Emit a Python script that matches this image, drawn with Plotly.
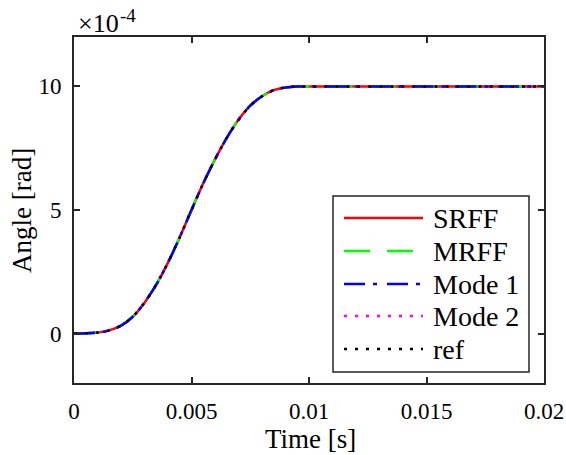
import plotly.graph_objects as go

# ---- data (angle in units of 1e-4 rad) ----
time_s = [0.0, 0.0005, 0.001, 0.0015, 0.002, 0.0025, 0.003, 0.0035, 0.004, 0.0045,
          0.005, 0.0055, 0.006, 0.0065, 0.007, 0.0075, 0.008, 0.0085, 0.009, 0.0095,
          0.010, 0.012, 0.014, 0.016, 0.018, 0.020]
angle_srff = [0.0, 0.01, 0.04, 0.13, 0.32, 0.68, 1.25, 1.98, 2.87, 3.9,
              5.0, 6.08, 7.05, 7.92, 8.65, 9.22, 9.6, 9.85, 9.96, 10.0,
              10.0, 10.0, 10.0, 10.0, 10.0, 10.0]
angle_mrff = list(angle_srff)
angle_mode1 = list(angle_srff)
angle_mode2 = list(angle_srff)
angle_ref = list(angle_srff)

series_names = ["SRFF", "MRFF", "Mode 1", "Mode 2", "ref"]
series_values = [angle_srff, angle_mrff, angle_mode1, angle_mode2, angle_ref]
series_colors = ["#ff0000", "#00ff00", "#0000ff", "#ff00ff", "#000000"]
series_dash = ["solid", "26px,17px", "21px,8px,4px,10px", "3px,8px", "3px,8px"]

x_ticks = [0, 0.005, 0.01, 0.015, 0.02]
x_ticklabels = ["0", "0.005", "0.01", "0.015", "0.02"]
y_ticks = [0, 5, 10]
y_ticklabels = ["0", "5", "10"]

W, H = 566, 455
L, R, T, B = 74, 544, 37, 383
FONT = "Liberation Serif, Times New Roman, serif"
AX = "#262626"

def px(x):
    return (x - L) / (R - L)

def py(y):
    return (B - y) / (B - T)

fig = go.Figure()
for name, vals, col, dash in zip(series_names, series_values, series_colors, series_dash):
    fig.add_trace(go.Scatter(x=time_s, y=vals, mode="lines", name=name,
                             line=dict(color=col, width=2.5, dash=dash, shape="spline", smoothing=0.8),
                             showlegend=False))

axis_common = dict(showgrid=False, zeroline=False, showline=True, linecolor=AX, linewidth=2,
                   mirror="ticks", ticks="inside", ticklen=6, tickwidth=2, tickcolor=AX,
                   automargin=False,
                   tickfont=dict(family=FONT, size=23, color="black"))
fig.update_xaxes(range=[0, 0.02], tickvals=x_ticks, ticktext=x_ticklabels,
                 ticklabelstandoff=6, **axis_common)
fig.update_yaxes(range=[-2, 12], tickvals=y_ticks, ticktext=y_ticklabels,
                 ticklabelstandoff=6, **axis_common)

shapes = []
annotations = []
# legend box
shapes.append(dict(type="rect", xref="paper", yref="paper",
                   x0=px(333), x1=px(529), y0=py(372), y1=py(196),
                   line=dict(color=AX, width=1.5), fillcolor="white", layer="above"))
row_y = [218, 251, 284, 316, 349]
for name, col, dash, ry in zip(series_names, series_colors, series_dash, row_y):
    shapes.append(dict(type="line", xref="paper", yref="paper",
                       x0=px(344), x1=px(423), y0=py(ry), y1=py(ry),
                       line=dict(color=col, width=2.5, dash=dash), layer="above"))
    annotations.append(dict(text=name, xref="paper", yref="paper", x=px(431), y=py(ry),
                            xanchor="left", yanchor="middle", showarrow=False,
                            font=dict(family=FONT, size=28, color="black")))

annotations.append(dict(text="Time [s]", xref="paper", yref="paper", x=px(310), y=py(439),
                        xanchor="center", yanchor="middle", showarrow=False,
                        font=dict(family=FONT, size=27, color="black")))
annotations.append(dict(text="Angle [rad]", xref="paper", yref="paper", x=px(22), y=py(211),
                        xanchor="center", yanchor="middle", textangle=-90, showarrow=False,
                        font=dict(family=FONT, size=27, color="black")))
annotations.append(dict(text="×10", xref="paper", yref="paper", x=px(76), y=py(23),
                        xanchor="left", yanchor="middle", showarrow=False,
                        font=dict(family=FONT, size=26, color="black")))
annotations.append(dict(text="-4", xref="paper", yref="paper", x=px(118), y=py(15),
                        xanchor="left", yanchor="middle", showarrow=False,
                        font=dict(family=FONT, size=19, color="black")))

fig.update_layout(width=W, height=H, margin=dict(l=L, r=W - R, t=T, b=H - B),
                  plot_bgcolor="white", paper_bgcolor="white",
                  shapes=shapes, annotations=annotations)

fig.write_html("out.html")
